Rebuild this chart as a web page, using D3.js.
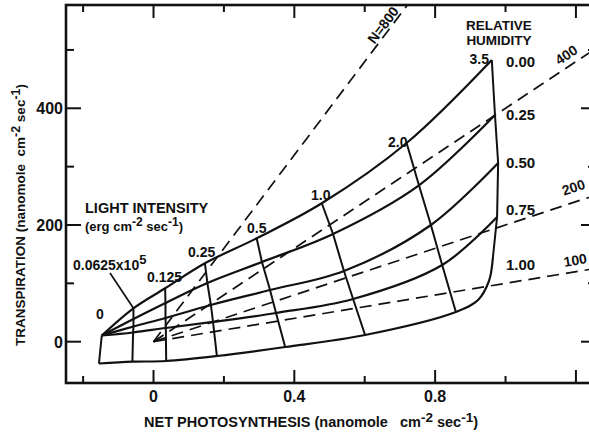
<!doctype html>
<html lang="en">
<head>
<meta charset="utf-8">
<title>Transpiration vs net photosynthesis</title>
<script src="https://cdn.jsdelivr.net/npm/d3@7"></script>
<style>
  body { margin: 0; background: #fff; }
  svg text { font-family: "Liberation Sans", Arial, sans-serif; font-weight: bold; fill: #111; }
</style>
</head>
<body>
<div id="chart"></div>
<script>
// light intensity levels (x10^5 erg cm-2 sec-1) and relative humidity levels
var lightLevels = [0, 0.0625, 0.125, 0.25, 0.5, 1.0, 2.0, 3.5];
var humidity = ["0.00", "0.25", "0.50", "0.75", "1.00"];

// net photosynthesis for each humidity curve, one value per light level
var photoRH000 = [-0.147, -0.057, 0.033, 0.146, 0.293, 0.478, 0.719, 0.961];
var photoRH025 = [-0.147, -0.057, 0.034, 0.153, 0.308, 0.510, 0.754, 0.970];
var photoRH050 = [-0.147, -0.057, 0.034, 0.163, 0.331, 0.541, 0.788, 0.979];
var photoRH075 = [-0.147, -0.058, 0.035, 0.169, 0.348, 0.567, 0.820, 0.976];
var photoRH100 = [-0.155, -0.060, 0.036, 0.180, 0.374, 0.601, 0.859, 0.964];

// transpiration for each humidity curve
var transRH000 = [10.6, 57.2, 91.5, 134.4, 177.2, 237.2, 340.5, 482.8];
var transRH025 = [10.6, 38.9, 66.3, 100.6, 136.6, 184.6, 268.0, 388.5];
var transRH050 = [10.6, 26.0, 40.6, 62.9, 88.6, 121.1, 200.0, 306.3];
var transRH075 = [10.6, 15.8, 23.5, 33.8, 49.2, 73.2, 131.4, 213.7];
var transRH100 = [-37.4, -34.3, -33.1, -24.5, -9.1, 11.5, 50.9, 143.4];

// extra traced points on the RH 1.00 curve where it bends up between 2.0 and 3.5
var tailPhoto = [0.922, 0.953];
var tailTrans = [71.5, 104.1];

// transpiration ratio lines N
var ratioN = [800, 400, 200, 100];

var xTicks = [-0.2, 0, 0.2, 0.4, 0.6, 0.8, 1.0, 1.2];
var xTickLabels = {"0": "0", "0.4": "0.4", "0.8": "0.8"};
var yTicks = [0, 100, 200, 300, 400, 500];
var yTickLabels = {"0": "0", "200": "200", "400": "400"};

var photo = [photoRH000, photoRH025, photoRH050, photoRH075, photoRH100];
var trans = [transRH000, transRH025, transRH050, transRH075, transRH100];

var W = 589, H = 432;
var margin = {top: 5, right: -7, bottom: 49, left: 66};
var width = W - margin.left - margin.right,
    height = H - margin.top - margin.bottom;

var svg = d3.select("#chart").append("svg")
    .attr("width", W).attr("height", H);
svg.append("rect").attr("width", W).attr("height", H).attr("fill", "#fff");

var g = svg.append("g")
    .attr("transform", "translate(" + margin.left + "," + margin.top + ")");

var x = d3.scaleLinear().domain([-0.2486, 1.257]).range([0, width]);
var y = d3.scaleLinear().domain([-70.8, 577]).range([height, 0]);

g.append("clipPath").attr("id", "clip")
  .append("rect").attr("width", width).attr("height", height);

var plot = g.append("g").attr("clip-path", "url(#clip)");

// dashed N lines from the origin
var ratioEnd = {800: 0.75, 400: 1.26, 200: 1.26, 100: 1.26};
plot.selectAll(".nline").data(ratioN).enter().append("line")
    .attr("class", "nline")
    .attr("x1", x(0)).attr("y1", y(0))
    .attr("x2", function(d) { return x(ratioEnd[d]); })
    .attr("y2", function(d) { return y(d * ratioEnd[d]); })
    .attr("stroke", "#111").attr("stroke-width", 1.7)
    .attr("stroke-dasharray", "12,7");

// humidity curves
var curveLine = d3.line()
    .x(function(d) { return x(d[0]); })
    .y(function(d) { return y(d[1]); })
    .curve(d3.curveCatmullRom.alpha(0.5));

humidity.forEach(function(h, i) {
  var pts = photo[i].map(function(p, j) { return [p, trans[i][j]]; });
  if (i === 4) {
    var last = pts.pop();
    tailPhoto.forEach(function(p, k) { pts.push([p, tailTrans[k]]); });
    pts.push(last);
  }
  plot.append("path")
      .attr("d", curveLine(pts))
      .attr("fill", "none").attr("stroke", "#111").attr("stroke-width", 2.2);
});

// constant light lines
var straight = d3.line()
    .x(function(d) { return x(d[0]); })
    .y(function(d) { return y(d[1]); });

lightLevels.forEach(function(L, j) {
  var pts = photo.map(function(p, i) { return [p[j], trans[i][j]]; });
  plot.append("path")
      .attr("d", straight(pts))
      .attr("fill", "none").attr("stroke", "#111").attr("stroke-width", 2)
      .attr("stroke-linejoin", "round");
});

// frame with inward ticks
g.append("rect").attr("width", width).attr("height", height)
    .attr("fill", "none").attr("stroke", "#111").attr("stroke-width", 2.6);

xTicks.forEach(function(t) {
  var major = xTickLabels[String(t)] !== undefined || t === 1.2;
  var len = major ? 13 : 7;
  g.append("line").attr("x1", x(t)).attr("x2", x(t))
      .attr("y1", height).attr("y2", height - len)
      .attr("stroke", "#111").attr("stroke-width", 2);
  g.append("line").attr("x1", x(t)).attr("x2", x(t))
      .attr("y1", 0).attr("y2", len)
      .attr("stroke", "#111").attr("stroke-width", 2);
  if (xTickLabels[String(t)] !== undefined) {
    g.append("text").attr("x", x(t)).attr("y", height + 19)
        .attr("text-anchor", "middle").attr("font-size", 16)
        .text(xTickLabels[String(t)]);
  }
});

yTicks.forEach(function(t) {
  var major = yTickLabels[String(t)] !== undefined;
  var len = major ? 15 : 8;
  g.append("line").attr("x1", 0).attr("x2", len)
      .attr("y1", y(t)).attr("y2", y(t))
      .attr("stroke", "#111").attr("stroke-width", 2);
  g.append("line").attr("x1", width).attr("x2", width - len)
      .attr("y1", y(t)).attr("y2", y(t))
      .attr("stroke", "#111").attr("stroke-width", 2);
  if (major) {
    g.append("text").attr("x", -3).attr("y", y(t) + 6)
        .attr("text-anchor", "end").attr("font-size", 16)
        .text(yTickLabels[String(t)]);
  }
});

// axis titles
function unitText(sel, size) {
  sel.append("tspan").attr("dy", -5).attr("font-size", size - 1).text("-2");
  sel.append("tspan").attr("dy", 5).text(" sec");
  sel.append("tspan").attr("dy", -5).attr("font-size", size - 1).text("-1");
  sel.append("tspan").attr("dy", 5).text(")");
}

var xt = svg.append("text").attr("x", 311).attr("y", 427)
    .attr("text-anchor", "middle").attr("font-size", 14.5)
    .attr("xml:space", "preserve");
xt.append("tspan").text("NET PHOTOSYNTHESIS (nanomole   cm");
unitText(xt, 14.5);

var yt = svg.append("text")
    .attr("transform", "translate(25,215) rotate(-90)")
    .attr("text-anchor", "middle").attr("font-size", 13.5)
    .attr("xml:space", "preserve");
yt.append("tspan").text("TRANSPIRATION (nanomole  cm");
unitText(yt, 13.5);

// light intensity annotations
svg.append("text").attr("x", 85).attr("y", 213).attr("font-size", 14.5)
    .text("LIGHT INTENSITY");
var unit = svg.append("text").attr("x", 85).attr("y", 231).attr("font-size", 13);
unit.append("tspan").text("(erg cm");
unitText(unit, 13);

var lightLabels = ["0", "0.0625x10", "0.125", "0.25", "0.5", "1.0", "2.0", "3.5"];
var lightLabelPos = [[96, 319, "start"], [73, 270, "start"], [147, 282, "start"],
                     [188, 257, "start"], [247, 233, "start"], [311, 200, "start"],
                     [388, 147, "start"], [489, 64, "end"]];
lightLabels.forEach(function(s, j) {
  var t = svg.append("text").attr("x", lightLabelPos[j][0]).attr("y", lightLabelPos[j][1])
      .attr("text-anchor", lightLabelPos[j][2]).attr("font-size", 14).text(s);
  if (j === 1) t.append("tspan").attr("dy", -6).attr("font-size", 13).text("5");
});
// leader for 0.0625
svg.append("line")
    .attr("x1", 110).attr("y1", 273)
    .attr("x2", margin.left + x(photoRH000[1])).attr("y2", margin.top + y(transRH000[1]))
    .attr("stroke", "#111").attr("stroke-width", 1.7);

// relative humidity labels
svg.append("text").attr("x", 499).attr("y", 30).attr("text-anchor", "middle")
    .attr("font-size", 13.5).text("RELATIVE");
svg.append("text").attr("x", 499).attr("y", 45).attr("text-anchor", "middle")
    .attr("font-size", 13.5).text("HUMIDITY");
var rhLabelY = [67, 120, 168, 215, 270];
humidity.forEach(function(h, i) {
  svg.append("text").attr("x", 506).attr("y", rhLabelY[i])
      .attr("font-size", 15).text(h);
});

// N labels along their lines
var nLabelPos = [[387, 28, "N=800"], [569, 59, "400"], [575, 192, "200"], [576, 265, "100"]];
ratioN.forEach(function(n, i) {
  var ang = Math.atan2(y(n) - y(0), x(1) - x(0)) * 180 / Math.PI;
  svg.append("text")
      .attr("transform", "translate(" + nLabelPos[i][0] + "," + nLabelPos[i][1] + ") rotate(" + ang + ")")
      .attr("text-anchor", "middle").attr("font-size", 14)
      .text(nLabelPos[i][2]);
});
</script>
</body>
</html>
